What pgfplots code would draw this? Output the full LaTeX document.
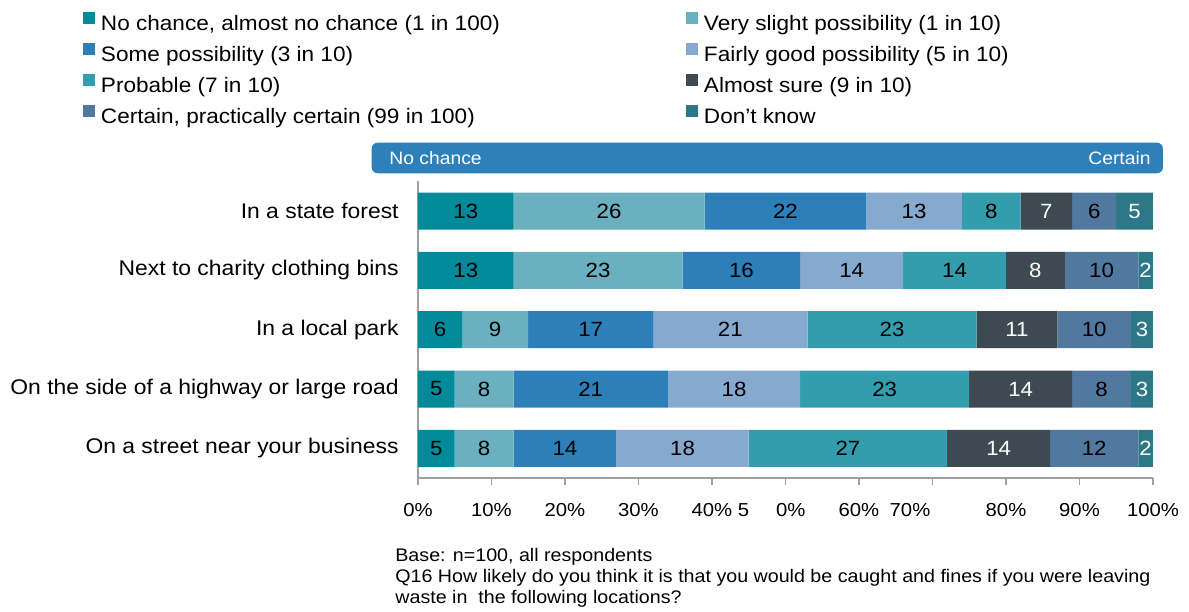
\documentclass[border=0pt]{standalone}
\usepackage{pgfplots}
\usepackage{pgfplotstable}
\pgfplotsset{compat=1.18}
\usepackage{fontspec}
\setmainfont[FakeStretch=1.08]{Liberation Sans}
\definecolor{cA}{RGB}{0,138,154}
\definecolor{cB}{RGB}{106,176,190}
\definecolor{cC}{RGB}{44,127,184}
\definecolor{cD}{RGB}{133,169,207}
\definecolor{cE}{RGB}{51,156,173}
\definecolor{cF}{RGB}{61,74,82}
\definecolor{cG}{RGB}{81,120,158}
\definecolor{cH}{RGB}{45,120,134}
\definecolor{headblue}{RGB}{46,128,186}
\definecolor{axisgray}{RGB}{160,160,160}
\pgfplotstableread{
y A B C D E F G H
0 13 26 22 13 8 7 6 5
1 13 23 16 14 14 8 10 2
2 6 9 17 21 23 11 10 3
3 5 8 21 18 23 14 8 3
4 5 8 14 18 27 14 12 2
}\data
\begin{document}
\begin{tikzpicture}
\begin{axis}[
  width=367.5pt, height=148.25pt, scale only axis,
  xbar stacked, bar width=18.5pt,
  xmin=0, xmax=100, ymin=-0.5, ymax=4.5, y dir=reverse,
  clip=false,
  axis x line*=bottom, axis y line*=left,
  axis line style={draw=axisgray, line width=0.8pt},
  tick align=outside, major tick length=3.5pt,
  x tick style={draw=axisgray, line width=0.8pt},
  xtick={0,10,...,100},
  xticklabels={0\%,10\%,20\%,30\%,40\%\rlap{ 5},\hspace*{5.3pt}0\%,60\%,\hspace*{-22.5pt}70\%,80\%,90\%,100\%},
  x tick label style={font=\fontsize{9.4}{11}\selectfont, inner sep=0pt, yshift=-9pt},
  ytick={0,1,2,3,4},
  yticklabels={In a state forest,Next to charity clothing bins,In a local park,On the side of a highway or large road,On a street near your business},
  y tick style={draw=none},
  y tick label style={font=\fontsize{10.6}{12}\selectfont, inner sep=0pt, xshift=-6pt},
  extra y ticks={-0.5,0.5,1.5,2.5,3.5,4.5},
  extra y tick labels={},
  extra y tick style={tick style={draw=axisgray, line width=0.8pt}},
  /pgf/number format/assume math mode=true,
  point meta=rawx,
  nodes near coords={\pgfmathprintnumber{\pgfplotspointmeta}},
  nodes near coords style={font=\fontsize{10.3}{12}\selectfont, text=black},
  legend columns=2,
  legend cell align=left,
  legend style={at={(-0.4558,1.5730)}, anchor=north west, draw=none, fill=none,
    inner sep=0pt, outer sep=0pt,
    font=\fontsize{10.45}{12}\selectfont,
    nodes={inner sep=0pt, text height=8pt, text depth=2.5pt},
    row sep=3.8pt, column sep=3pt,
    /tikz/every even column/.append style={column sep=93pt}},
  legend image code/.code={\fill[#1] (0pt,0.5pt) rectangle (6pt,6.5pt);},
]
\addplot[fill=cA, draw=none] table[x=A, y=y] {\data};
\addlegendentry{No chance, almost no chance (1 in 100)}
\addplot[fill=cB, draw=none] table[x=B, y=y] {\data};
\addlegendentry{Very slight possibility (1 in 10)}
\addplot[fill=cC, draw=none] table[x=C, y=y] {\data};
\addlegendentry{Some possibility (3 in 10)}
\addplot[fill=cD, draw=none] table[x=D, y=y] {\data};
\addlegendentry{Fairly good possibility (5 in 10)}
\addplot[fill=cE, draw=none] table[x=E, y=y] {\data};
\addlegendentry{Probable (7 in 10)}
\addplot[fill=cF, draw=none, every node near coord/.append style={text=white}] table[x=F, y=y] {\data};
\addlegendentry{Almost sure (9 in 10)}
\addplot[fill=cG, draw=none] table[x=G, y=y] {\data};
\addlegendentry{Certain, practically certain (99 in 100)}
\addplot[fill=cH, draw=none, every node near coord/.append style={text=white}] table[x=H, y=y] {\data};
\addlegendentry{Don’t know}
\coordinate (H1) at (axis cs:-6.3,-1.154);
\coordinate (H2) at (axis cs:101.36,-0.638);
\coordinate (HL) at (axis cs:-3.95,-0.896);
\coordinate (HR) at (axis cs:99.73,-0.896);
\coordinate (F1) at (axis cs:-3.13,5.917);
\coordinate (F2) at (axis cs:-3.13,6.263);
\coordinate (F3) at (axis cs:-3.13,6.609);
\coordinate (BL) at (axis cs:-56.87,6.76);
\coordinate (TR) at (axis cs:104.9,-3.56);
\end{axis}
\fill[headblue, rounded corners=3pt] (H1) rectangle (H2);
\node[anchor=west, text=white, font=\fontsize{8.95}{11}\selectfont, inner sep=0pt] at (HL) {No chance};
\node[anchor=east, text=white, font=\fontsize{8.95}{11}\selectfont, inner sep=0pt] at (HR) {Certain};
\node[anchor=base west, font=\fontsize{9.1}{10}\selectfont, inner sep=0pt] at (F1) {Base: n=100, all respondents};
\node[anchor=base west, font=\fontsize{9.1}{10}\selectfont, inner sep=0pt] at (F2) {Q16 How likely do you think it is that you would be caught and fines if you were leaving};
\node[anchor=base west, font=\fontsize{9.1}{10}\selectfont, inner sep=0pt] at (F3) {waste in\ \ the following locations?};
\pgfresetboundingbox
\path[use as bounding box] (BL) rectangle (TR);
\end{tikzpicture}
\end{document}
